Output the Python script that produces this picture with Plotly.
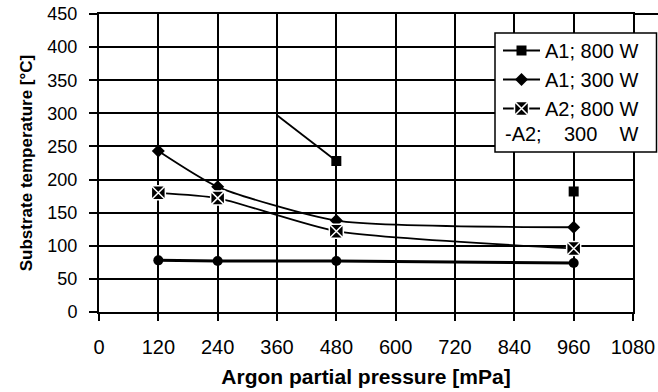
import plotly.graph_objects as go

# ---- data ----
x_ticks = [0, 120, 240, 360, 480, 600, 720, 840, 960, 1080]
y_ticks = [0, 50, 100, 150, 200, 250, 300, 350, 400, 450]

a1_800_x = [360, 480, 960]
a1_800_y = [297, 228, 182]

a1_300_x = [120, 240, 480, 960]
a1_300_y = [243, 189, 138, 128]

a2_800_x = [120, 240, 480, 960]
a2_800_y = [180, 172, 122, 96]

a2_300_x = [120, 240, 480, 960]
a2_300_y = [78, 77, 77, 74]

names = ["A1; 800 W", "A1; 300 W", "A2; 800 W", "-A2;  300  W"]

FONT = "Liberation Sans, Arial, sans-serif"
L, R, T, B = 99, 25, 14, 80
PW, PH = 658 - L - R, 392 - T - B


def px_x(p):
    return (p - L) / PW


def px_y(p):
    return (392 - B - p) / PH


fig = go.Figure()

# A1; 800 W : curve segment between first two points (no marker on first)
fig.add_trace(go.Scatter(
    x=a1_800_x[:2], y=a1_800_y[:2], mode="lines",
    line=dict(color="black", width=1.8), showlegend=False, hoverinfo="skip"))
# A1; 800 W : measured points with legend entry
fig.add_trace(go.Scatter(
    x=[a1_800_x[1], None, a1_800_x[2]], y=[a1_800_y[1], None, a1_800_y[2]],
    name=names[0], mode="lines+markers",
    line=dict(color="black", width=1.8),
    marker=dict(symbol="square", size=10, color="black"),
    legendgroup="g1"))
fig.add_trace(go.Scatter(
    x=a1_300_x, y=a1_300_y, name=names[1], mode="lines+markers",
    line=dict(color="black", width=1.8, shape="spline", smoothing=0.6),
    marker=dict(symbol="diamond", size=10, color="black"),
    legendgroup="g2"))
fig.add_trace(go.Scatter(
    x=a2_800_x, y=a2_800_y, name=names[2], mode="lines+markers",
    line=dict(color="black", width=1.8, shape="spline", smoothing=0.6),
    marker=dict(symbol="square-x", size=14, color="black",
                line=dict(color="white", width=1.5)),
    legendgroup="g3"))
fig.add_trace(go.Scatter(
    x=a2_300_x, y=a2_300_y, name=names[3], mode="lines+markers",
    line=dict(color="black", width=3),
    marker=dict(symbol="circle", size=10, color="black"),
    showlegend=False))
# legend row holder for the 4th entry (its text is drawn as an annotation)
fig.add_trace(go.Scatter(
    x=[None], y=[None], name=" ", mode="lines",
    line=dict(color="rgba(0,0,0,0)", width=0), legendgroup="g4"))

nb = "\u00a0"
fig.add_annotation(
    text="-A2;" + nb * 4 + "300" + nb * 4 + "W", xref="paper", yref="paper",
    x=px_x(503), y=px_y(134), xanchor="left", yanchor="middle",
    showarrow=False, font=dict(family=FONT, size=20, color="black"))

# legend frame (white box with black border) and the top rule that runs past the plot
fig.add_shape(type="rect", xref="paper", yref="paper",
              x0=px_x(495), x1=px_x(656.5), y0=px_y(152), y1=px_y(33),
              fillcolor="white", line=dict(color="black", width=1.5), layer="above")
fig.add_shape(type="line", xref="paper", yref="paper",
              x0=1, x1=px_x(658), y0=1, y1=1,
              line=dict(color="black", width=2), layer="above")

fig.update_layout(
    width=658, height=392,
    margin=dict(l=L, r=R, t=T, b=B, autoexpand=False),
    paper_bgcolor="white", plot_bgcolor="white",
    font=dict(family=FONT, color="black"),
    showlegend=True,
    legend=dict(
        x=px_x(498), y=px_y(31), xanchor="left", yanchor="top",
        bgcolor="rgba(0,0,0,0)", borderwidth=0,
        font=dict(family=FONT, size=20, color="black"),
        tracegroupgap=3, traceorder="normal", itemwidth=37,
    ),
)

fig.update_xaxes(
    range=[0, 1080], tickvals=x_ticks, ticktext=[str(v) for v in x_ticks],
    showgrid=True, gridcolor="black", gridwidth=2,
    showline=True, linecolor="black", linewidth=2, mirror=True,
    ticks="outside", ticklen=7, tickwidth=2, tickcolor="black",
    tickfont=dict(family=FONT, size=20), ticklabelstandoff=9,
    zeroline=False, automargin=False,
    title=dict(text="<b>Argon partial pressure [mPa]</b>",
               font=dict(family=FONT, size=21), standoff=12),
)
fig.update_yaxes(
    range=[0, 450], tickvals=y_ticks, ticktext=[str(v) for v in y_ticks],
    showgrid=True, gridcolor="black", gridwidth=2,
    showline=True, linecolor="black", linewidth=2, mirror=True,
    ticks="outside", ticklen=8, tickwidth=2, tickcolor="black",
    tickfont=dict(family=FONT, size=18), ticklabelstandoff=8,
    zeroline=False, automargin=False,
    title=dict(text="<b>Substrate temperature [°C]</b>",
               font=dict(family=FONT, size=17), standoff=10),
)

fig.write_html("out.html")
